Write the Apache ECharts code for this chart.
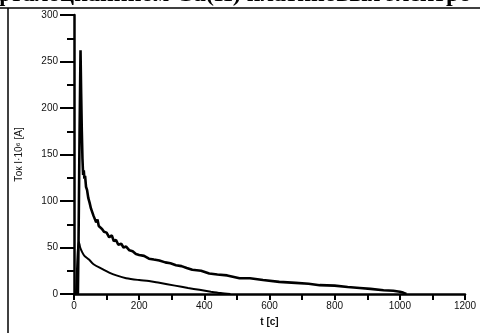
<!DOCTYPE html>
<html><head><meta charset="utf-8">
<script src="https://cdn.jsdelivr.net/npm/echarts@6/dist/echarts.min.js"></script>
<style>html,body{margin:0;padding:0;background:#fff}#c{width:480px;height:333px}</style>
</head><body><div id="c"></div>
<script>
var xTicks = [0, 200, 400, 600, 800, 1000, 1200];
var yTicks = [0, 50, 100, 150, 200, 250, 300];
var upperT = [0, 12, 14, 17, 20, 22, 24, 26, 28, 30, 32, 34, 37, 40, 44, 48, 52, 55, 60, 64, 68, 72, 76, 80, 86, 92, 100, 108, 116, 122, 129, 136, 145, 152, 160, 170, 180, 190, 200, 215, 230, 245, 262, 280, 296, 313, 330, 346, 363, 390, 415, 440, 470, 508, 540, 580, 630, 680, 720, 754, 800, 840, 877, 910, 950, 980, 1000, 1010, 1020];
var upperV = [0, 0, 60, 170, 262, 215, 175, 145, 128, 133, 124, 127, 115, 112, 103, 98, 92, 90, 84, 82, 77, 80, 73, 74, 70, 67, 66, 61, 63, 57, 58, 53, 54, 50, 51, 47, 46, 43, 42, 41, 38, 37, 36, 34, 33, 31, 30, 28, 26, 25, 22, 21, 20, 17, 17, 15, 13, 12, 11, 9.5, 9, 7.5, 6.5, 5.5, 4, 3.5, 2.5, 1.5, 0];
var lowerT = [6, 9, 12, 15, 19, 25, 32, 46, 60, 86, 108, 130, 160, 200, 230, 262, 310, 350, 385, 420, 450, 480];
var lowerV = [0, 25, 48, 56, 50, 45, 41, 37, 32, 27, 23, 20, 17, 15, 14, 12, 9, 6.5, 4.5, 2.5, 1, 0];

function pairs(t, v) { return t.map(function (x, i) { return [x, v[i]]; }); }

var chart = echarts.init(document.getElementById('c'), null, {renderer: 'canvas'});
var font = '"Liberation Sans", Arial, sans-serif';
chart.setOption({
  animation: false,
  backgroundColor: '#fff',
  grid: {left: 74, right: 15, top: 15, bottom: 39, containLabel: false},
  xAxis: {
    type: 'value', min: xTicks[0], max: xTicks[xTicks.length - 1], interval: 100,
    name: 't [c]', nameLocation: 'middle', nameGap: 23,
    nameTextStyle: {fontFamily: font, fontSize: 10, fontWeight: 'bold', color: '#111'},
    axisLine: {show: true, onZero: false, lineStyle: {color: '#000', width: 2.5}},
    axisTick: {show: true, inside: false, length: 6, lineStyle: {color: '#000', width: 2}},
    axisLabel: {margin: 7, fontFamily: font, fontSize: 10, color: '#111',
      formatter: function (v) { return xTicks.indexOf(v) >= 0 ? String(v) : ''; }},
    splitLine: {show: false}
  },
  yAxis: {
    type: 'value', min: yTicks[0], max: yTicks[yTicks.length - 1], interval: 50,
    name: 'Ток I·10⁶ [A]', nameLocation: 'middle', nameGap: 50, nameRotate: 90,
    nameTextStyle: {fontFamily: font, fontSize: 10, color: '#111'},
    axisLine: {show: true, lineStyle: {color: '#000', width: 2.5}},
    axisTick: {show: true, inside: false, length: 14, lineStyle: {color: '#000', width: 2}},
    minorTick: {show: true, splitNumber: 2, length: 7, lineStyle: {color: '#000', width: 2}},
    axisLabel: {margin: 16, fontFamily: font, fontSize: 10, color: '#111'},
    splitLine: {show: false}
  },
  series: [
    {type: 'line', data: pairs(upperT, upperV), showSymbol: false, symbol: 'none',
     lineStyle: {color: '#000', width: 2.6}, z: 3},
    {type: 'line', data: pairs(lowerT, lowerV), showSymbol: false, symbol: 'none', smooth: 0.3,
     lineStyle: {color: '#000', width: 2}, z: 3}
  ],
  graphic: [
    {type: 'text', left: -6, top: -17, style: {text: 'фталоцианином Cu(II) платиновых электро', fontFamily: '"Liberation Serif", serif', fontSize: 24, fontWeight: 'bold', fill: '#000'}},
    {type: 'line', shape: {x1: 0, y1: 8, x2: 480, y2: 8}, style: {stroke: '#000', lineWidth: 1.5}},
    {type: 'line', shape: {x1: 8, y1: 8, x2: 8, y2: 333}, style: {stroke: '#000', lineWidth: 1.5}}
  ]
});
</script></body></html>
